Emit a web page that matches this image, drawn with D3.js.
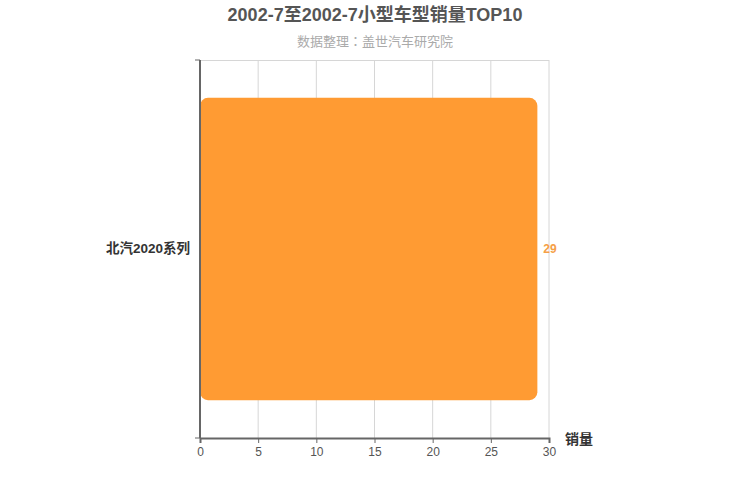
<!DOCTYPE html>
<html>
<head>
<meta charset="utf-8">
<script src="https://cdn.jsdelivr.net/npm/d3@7/dist/d3.min.js"></script>
<style>
  body { margin: 0; background: #fff; }
  svg { font-family: "Liberation Sans", Arial, "Noto Sans CJK SC", sans-serif; }
</style>
</head>
<body>
<svg width="750" height="500"></svg>
<script>
// chart data
var titleText = '2002-7至2002-7小型车型销量TOP10';
var subTitleText = '数据整理：盖世汽车研究院';
var categories = ['北汽2020系列'];
var salesValues = [29];
var xTicks = [0, 5, 10, 15, 20, 25, 30];
var xAxisName = '销量';

var svg = d3.select('svg');
var padding = {t: 60, r: 201, b: 62, l: 200};
var chartWidth = 750 - padding.l - padding.r;
var chartHeight = 500 - padding.t - padding.b;

// title
svg.append('text')
  .attr('x', 375).attr('y', 21)
  .attr('text-anchor', 'middle')
  .style('font-size', '18px').style('font-weight', 'bold')
  .style('fill', '#555')
  .text(titleText);

// subtitle: TC font keeps the full-width colon centred
svg.append('text')
  .attr('x', 375).attr('y', 46)
  .attr('text-anchor', 'middle')
  .style('font-size', '13px')
  .style('font-family', '"Noto Sans CJK TC", "Noto Sans CJK SC", sans-serif')
  .style('fill', '#aaa')
  .text(subTitleText);

var chartG = svg.append('g')
  .attr('transform', 'translate(' + [padding.l, padding.t] + ')');

var xScale = d3.scaleLinear()
  .domain([0, 30])
  .range([0, chartWidth]);

var yScale = d3.scaleBand()
  .domain(categories)
  .range([0, chartHeight])
  .paddingInner(0.2)
  .paddingOuter(0.1);

// grid lines
chartG.append('g')
  .selectAll('line')
  .data(xTicks.slice(1))
  .enter()
  .append('line')
    .attr('x1', d => xScale(d)).attr('x2', d => xScale(d))
    .attr('y1', 0).attr('y2', chartHeight)
    .attr('stroke', '#d6d6d6');

chartG.append('line')
  .attr('x1', 0).attr('x2', chartWidth)
  .attr('y1', 0.5).attr('y2', 0.5)
  .attr('stroke', '#d6d6d6');

// bars
chartG.append('g')
  .selectAll('rect')
  .data(salesValues)
  .enter()
  .append('rect')
    .attr('x', 0)
    .attr('y', (d, i) => yScale(categories[i]))
    .attr('width', d => xScale(d))
    .attr('height', yScale.bandwidth())
    .attr('rx', 8).attr('ry', 8)
    .attr('fill', '#ff9b33');

// value labels
chartG.append('g')
  .selectAll('text')
  .data(salesValues)
  .enter()
  .append('text')
    .attr('x', d => xScale(d) + 6)
    .attr('y', (d, i) => yScale(categories[i]) + yScale.bandwidth() / 2)
    .attr('dy', '0.35em')
    .style('font-size', '12px').style('font-weight', 'bold')
    .style('fill', '#f5a048')
    .text(d => d);

// x axis
var xAxisG = chartG.append('g')
  .attr('transform', 'translate(0,' + chartHeight + ')')
  .call(d3.axisBottom(xScale).tickValues(xTicks).tickSize(5).tickPadding(4));
xAxisG.select('.domain').attr('stroke', '#666').attr('stroke-width', 2);
xAxisG.selectAll('.tick line').attr('stroke', '#666');
xAxisG.selectAll('.tick text')
  .style('font-size', '12px').style('fill', '#555')
  .style('font-family', '"Liberation Sans", Arial, sans-serif');

// y axis
var yAxisG = chartG.append('g')
  .call(d3.axisLeft(yScale).tickSize(0).tickPadding(10));
yAxisG.select('.domain').remove();
yAxisG.selectAll('.tick text')
  .style('font-size', '13.5px').style('font-weight', 'bold')
  .style('fill', '#333')
  .style('font-family', '"Liberation Sans", Arial, "Noto Sans CJK SC", sans-serif');

chartG.append('line')
  .attr('x1', 0).attr('x2', 0)
  .attr('y1', 0).attr('y2', chartHeight)
  .attr('stroke', '#666').attr('stroke-width', 2);
chartG.selectAll('.yEdgeTick')
  .data([0, chartHeight])
  .enter()
  .append('line')
    .attr('class', 'yEdgeTick')
    .attr('x1', -5).attr('x2', 0)
    .attr('y1', d => d).attr('y2', d => d)
    .attr('stroke', '#666');

// axis name
chartG.append('text')
  .attr('x', chartWidth + 16)
  .attr('y', chartHeight + 6)
  .style('font-size', '14px').style('font-weight', 'bold')
  .style('fill', '#333')
  .text(xAxisName);
</script>
</body>
</html>
